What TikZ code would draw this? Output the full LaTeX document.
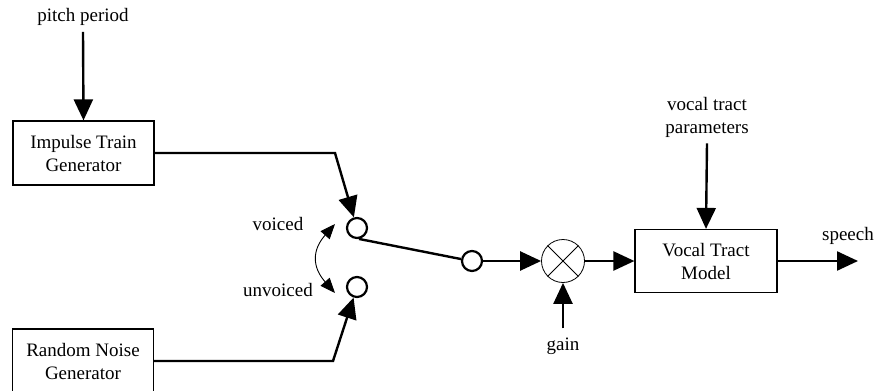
\documentclass[tikz,border=0pt]{standalone}
\usepackage{fontspec}
\setmainfont{Liberation Serif}
\usetikzlibrary{arrows.meta,calc}
\begin{document}
\begin{tikzpicture}[x=1pt,y=-1pt,
  every node/.style={font=\fontsize{19}{23}\selectfont},
  blk/.style={draw, line width=1.2pt, minimum width=141pt, minimum height=64pt, align=center, inner sep=0pt},
  sig/.style={line width=2.4pt, -{Triangle[length=21pt,width=19pt]}},
  wire/.style={line width=2.4pt},
  term/.style={circle, draw, line width=2.2pt, minimum size=20pt, inner sep=0pt},
  lbl/.style={inner sep=0pt, align=center},
  sel/.style={line width=0.9pt, {Triangle[length=15pt,width=12pt]}-{Triangle[length=15pt,width=12pt]}}]
\useasboundingbox (0,0) rectangle (876,391);

% nodes
\node[lbl] (pitch) at (83,17) {pitch period};
\node[blk] (imp) at (83.5,153) {Impulse Train\\Generator};
\node[blk] (noise) at (83,361) {Random Noise\\Generator};
\node[term] (v) at (357,228) {};
\node[term] (u) at (357,287) {};
\node[term] (o) at (472,261) {};
\node[circle, draw, line width=0.8pt, minimum size=43pt, inner sep=0pt] (m) at (563,261) {};
\node[blk, minimum width=142pt, minimum height=63pt] (vt) at (706,261) {Vocal Tract\\Model};
\node[lbl] (vtp) at (707,117) {vocal tract\\parameters};
\node[lbl] (speech) at (848,236) {speech};
\node[lbl] (gain) at (563,346) {gain};
\node[lbl] (voiced) at (278,224) {voiced};
\node[lbl] (unvoiced) at (278,290) {unvoiced};

\coordinate (c1) at (335,153);
\coordinate (c2) at (333,361);
\coordinate (out) at (858,261);
\coordinate (cv) at (335,224);
\coordinate (cu) at (335,293);

% connectors
\draw[sig] ($(pitch.south)+(0,6)$) -- (imp.north);
\draw[sig] (imp.east) -- (c1) -- (v);
\draw[sig] (noise.east) -- (c2) -- (u);
\draw[wire] (v.-80) -- (o.170);
\draw[sig] (o) -- (m);
\draw[sig] (m.east) -- (m.east -| vt.west);
\draw[sig] ($(gain.north)+(0,-9)$) -- (m.south);
\draw[sig] ($(vtp.south)+(0,6)$) -- (vt.north);
\draw[sig] (vt.east) -- (out);
\draw[line width=0.8pt] (m.north east) -- (m.south west);
\draw[line width=0.8pt] (m.north west) -- (m.south east);
\draw[sel] (cv) .. controls (312,250) and (312,267) .. (cu);
\end{tikzpicture}
\end{document}
